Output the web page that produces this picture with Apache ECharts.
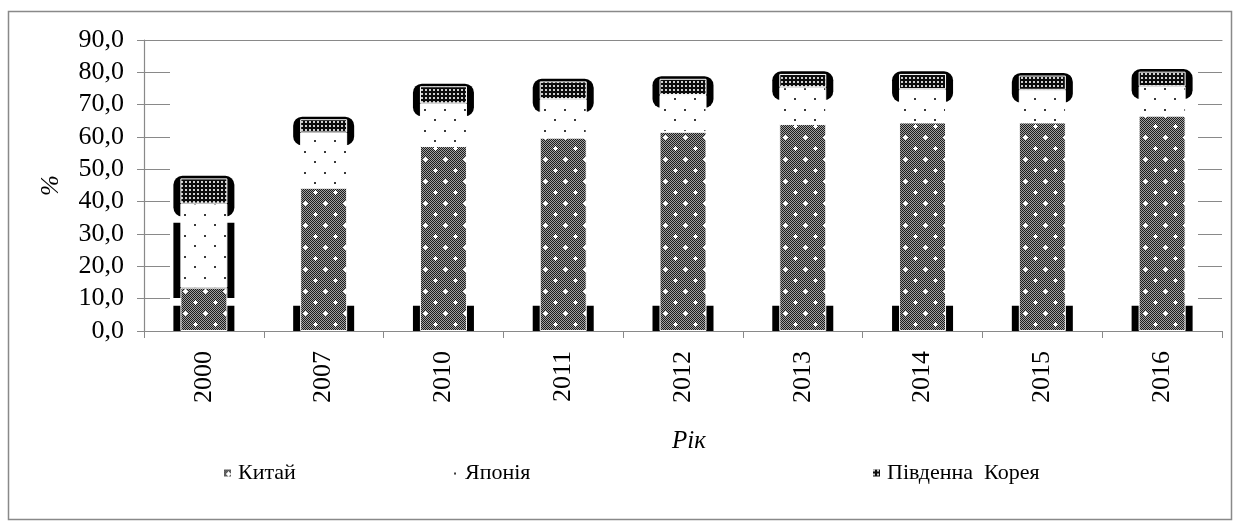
<!DOCTYPE html>
<html>
<head>
<meta charset="utf-8">
<script src="https://cdn.jsdelivr.net/npm/echarts@6/dist/echarts.min.js"></script>
<style>
  html, body { margin: 0; padding: 0; background: #fff; }
  #chart { width: 1240px; height: 527px; }
</style>
</head>
<body>
<div id="chart"></div>
<script>
// Частка країн у загальному показнику, %
const years = ['2000', '2007', '2010', '2011', '2012', '2013', '2014', '2015', '2016'];
const china = [13.4, 44.3, 57.2, 59.8, 61.6, 64.0, 64.5, 64.5, 66.6];
const japan = [26.0, 17.1, 13.2, 11.9, 11.4, 11.4, 10.3, 10.1, 9.1];
const korea = [7.8, 4.1, 5.3, 5.5, 5.0, 4.1, 4.7, 4.4, 4.5];
const yTicks = [0, 10, 20, 30, 40, 50, 60, 70, 80, 90];
const seriesNames = ['Китай', 'Японія', 'Південна  Корея'];

// black side bands drawn behind the columns: [category index, from %, to %]
const baseBands = years.map((_, i) => [i, 0, 7.8]);
const extraBands = [[0, 10.2, 33.5]];

const AXIS_GREY = '#898989';
const FONT = '"Liberation Serif", "Times New Roman", serif';
const BAR_W = 47;

function tile(w, h, draw) {
  const c = document.createElement('canvas');
  c.width = w; c.height = h;
  draw(c.getContext('2d'));
  return { image: c, repeat: 'repeat' };
}

// dotted grey checker with white crosses
const chinaFill = tile(20, 22, ctx => {
  for (let y = 0; y < 22; y++) {
    for (let x = 0; x < 20; x++) {
      ctx.fillStyle = (x + y) % 2 === 0 ? '#1c1c1c' : '#a0a0a0';
      ctx.fillRect(x, y, 1, 1);
    }
  }
  ctx.fillStyle = '#ffffff';
  [[5, 5], [15, 16]].forEach(([x, y]) => {
    ctx.fillRect(x - 2, y, 5, 1);
    ctx.fillRect(x, y - 2, 1, 5);
    ctx.fillRect(x - 1, y - 1, 3, 3);
  });
});

// white with sparse dots
const japanFill = tile(20, 21, ctx => {
  ctx.fillStyle = '#ffffff';
  ctx.fillRect(0, 0, 20, 21);
  ctx.fillStyle = '#3a3a3a';
  ctx.fillRect(4, 4, 2, 2);
  ctx.fillRect(14, 14, 2, 2);
});

// dark net
const koreaFill = tile(4, 4, ctx => {
  ctx.fillStyle = '#0c0c0c';
  ctx.fillRect(0, 0, 4, 4);
  ctx.fillStyle = '#cfcfcf';
  ctx.fillRect(1, 1, 2, 2);
});

const totals = years.map((_, i) => china[i] + japan[i] + korea[i]);
const capData = years.map((_, i) => [i, totals[i] + 0.8, totals[i] - korea[i] - 4]);
const bandData = baseBands.concat(extraBands);

const chart = echarts.init(document.getElementById('chart'), null, { renderer: 'canvas' });

const barStyle = (fill) => ({ color: fill, borderColor: '#ffffff', borderWidth: 1 });

function legendAt(left, name) {
  return {
    left: left, top: 457,
    data: [name],
    itemWidth: 9, itemHeight: 9, itemGap: 0,
    icon: 'rect',
    textStyle: { fontFamily: FONT, fontSize: 22, color: '#000', padding: [0, 0, 0, 1] }
  };
}

const option = {
  animation: false,
  backgroundColor: '#ffffff',
  graphic: [{
    type: 'rect',
    shape: { x: 8.5, y: 11.5, width: 1223, height: 508 },
    style: { fill: 'none', stroke: AXIS_GREY, lineWidth: 1.5 },
    silent: true, z: -10
  }],
  legend: [
    legendAt(217, seriesNames[0]),
    legendAt(444, seriesNames[1]),
    legendAt(866, seriesNames[2])
  ],
  grid: { left: 144, right: 18, top: 40, bottom: 196, containLabel: false },
  xAxis: [{
    type: 'category',
    data: years,
    name: 'Рік',
    nameLocation: 'middle',
    nameGap: 98,
    nameTextStyle: { fontFamily: FONT, fontSize: 25, fontStyle: 'italic', color: '#000', padding: [0, 0, 0, 12] },
    axisLine: { lineStyle: { color: AXIS_GREY, width: 1.2 } },
    axisTick: { show: true, length: 7, lineStyle: { color: AXIS_GREY } },
    axisLabel: { rotate: 90, margin: 20, fontFamily: FONT, fontSize: 26, color: '#000' }
  }, {
    type: 'category',
    data: years,
    position: 'top',
    axisLine: { show: true, lineStyle: { color: AXIS_GREY, width: 1.2 } },
    axisTick: { show: false },
    axisLabel: { show: false }
  }],
  yAxis: {
    type: 'value',
    min: yTicks[0],
    max: yTicks[yTicks.length - 1],
    interval: yTicks[1] - yTicks[0],
    name: '%',
    nameLocation: 'middle',
    nameGap: 80,
    nameTextStyle: { fontFamily: FONT, fontSize: 25, fontStyle: 'italic', color: '#000' },
    axisLine: { show: true, lineStyle: { color: AXIS_GREY, width: 1.2 } },
    axisTick: { show: true, length: 7, lineStyle: { color: AXIS_GREY } },
    axisLabel: {
      margin: 20, fontFamily: FONT, fontSize: 26, color: '#000',
      formatter: v => v.toFixed(1).replace('.', ',')
    },
    splitLine: { show: true, lineStyle: { color: AXIS_GREY, width: 1.2, type: [26, 1028] } }
  },
  series: [
    {
      type: 'custom',
      name: 'bands',
      z: 1,
      silent: true,
      data: bandData,
      renderItem: (params, api) => {
        const i = api.value(0);
        const p0 = api.coord([i, api.value(1)]);
        const p1 = api.coord([i, api.value(2)]);
        return {
          type: 'rect',
          shape: { x: p0[0] - BAR_W / 2 - 7, y: p1[1], width: BAR_W + 14, height: p0[1] - p1[1] },
          style: { fill: '#000' }
        };
      }
    },
    {
      type: 'custom',
      name: 'caps',
      z: 1,
      silent: true,
      data: capData,
      renderItem: (params, api) => {
        const i = api.value(0);
        const top = api.coord([i, api.value(1)]);
        const bot = api.coord([i, api.value(2)]);
        return {
          type: 'rect',
          shape: { x: top[0] - BAR_W / 2 - 7, y: top[1], width: BAR_W + 14, height: bot[1] - top[1], r: 9 },
          style: { fill: '#000' }
        };
      }
    },
    { name: seriesNames[0], type: 'bar', stack: 'total', z: 2, barWidth: BAR_W, data: china, itemStyle: barStyle(chinaFill) },
    { name: seriesNames[1], type: 'bar', stack: 'total', z: 2, barWidth: BAR_W, data: japan, itemStyle: barStyle(japanFill) },
    { name: seriesNames[2], type: 'bar', stack: 'total', z: 2, barWidth: BAR_W, data: korea, itemStyle: barStyle(koreaFill) }
  ]
};

chart.setOption(option);
</script>
</body>
</html>
